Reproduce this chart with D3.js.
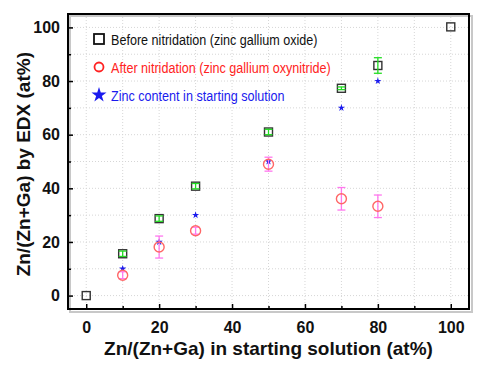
<!DOCTYPE html>
<html>
<head>
<meta charset="utf-8">
<script src="https://cdn.jsdelivr.net/npm/d3@7"></script>
<style>
  body { margin: 0; background: #fff; }
  svg { display: block; font-family: Arial, "Liberation Sans", sans-serif; }
</style>
</head>
<body>
<div class="chart"></div>
<script>
"use strict";

// Zn/(Zn+Ga) in starting solution (at%)
const beforeX = [0, 10, 20, 30, 50, 70, 80, 100];
const beforeY = [0, 15.6, 28.7, 40.8, 61, 77.3, 85.8, 100.2];
const beforeErr = [0, 1, 1, 1, 1, 0.5, 2.9, 0];

const afterX = [10, 20, 30, 50, 70, 80];
const afterY = [7.6, 18.1, 24.2, 49, 36.1, 33.3];
const afterErr = [1.3, 4.1, 1.3, 2.6, 4.2, 4.2];

const zincX = [10, 20, 30, 50, 70, 80];
const zincY = [10, 20, 30, 50, 70, 80];

const tickValues = [0, 20, 40, 60, 80, 100];
const minorValues = [10, 30, 50, 70, 90];

const legendLabels = [
  "Before nitridation (zinc gallium oxide)",
  "After nitridation (zinc gallium oxynitride)",
  "Zinc content in starting solution"
];

const width = 495;
const height = 371;
const margin = { top: 14, right: 26, bottom: 62, left: 68 };
const innerWidth = width - margin.left - margin.right;
const innerHeight = height - margin.top - margin.bottom;

const svg = d3.select(".chart")
  .append("svg")
    .attr("width", width)
    .attr("height", height);

const xScale = d3.scaleLinear().domain([-5, 105]).range([0, innerWidth]);
const yScale = d3.scaleLinear().domain([-5, 105]).range([innerHeight, 0]);

const chart = svg.append("g")
  .attr("transform", `translate(${margin.left}, ${margin.top})`);

// frame shadow
chart.append("rect")
  .attr("x", 2).attr("y", 2)
  .attr("width", innerWidth + 1).attr("height", innerHeight + 1)
  .attr("fill", "none")
  .attr("stroke", "#c8c8c8")
  .attr("stroke-width", 2);

// dotted grid every 10
const gridVals = d3.range(0, 101, 10);
chart.append("g")
  .selectAll("line")
  .data(gridVals)
  .join("line")
    .attr("x1", d => xScale(d)).attr("x2", d => xScale(d))
    .attr("y1", 0).attr("y2", innerHeight)
    .attr("stroke", "#d6d6d6")
    .attr("stroke-dasharray", "1,2");

chart.append("g")
  .selectAll("line")
  .data(gridVals)
  .join("line")
    .attr("x1", 0).attr("x2", innerWidth)
    .attr("y1", d => yScale(d)).attr("y2", d => yScale(d))
    .attr("stroke", "#d6d6d6")
    .attr("stroke-dasharray", "1,2");

// axes with inward ticks
const xAxis = d3.axisBottom(xScale).tickValues(tickValues).tickSize(-5).tickPadding(13);
const yAxis = d3.axisLeft(yScale).tickValues(tickValues).tickSize(-5).tickPadding(8);

const gx = chart.append("g")
  .attr("class", "axis-x")
  .attr("transform", `translate(0, ${innerHeight})`)
  .call(xAxis);

const gy = chart.append("g")
  .attr("class", "axis-y")
  .call(yAxis);

// minor ticks, no labels
chart.append("g")
  .attr("transform", `translate(0, ${innerHeight})`)
  .call(d3.axisBottom(xScale).tickValues(minorValues).tickSize(-3))
  .call(g => g.select(".domain").remove())
  .call(g => g.selectAll("text").remove());
chart.append("g")
  .call(d3.axisLeft(yScale).tickValues(minorValues).tickSize(-3))
  .call(g => g.select(".domain").remove())
  .call(g => g.selectAll("text").remove());

[gx, gy].forEach(g => {
  g.select(".domain").remove();
  g.selectAll("text")
    .attr("font-size", 16)
    .attr("font-weight", "bold")
    .attr("fill", "#111");
});
chart.selectAll(".tick line").attr("stroke", "#000").attr("stroke-width", 1.5);

// frame
chart.append("rect")
  .attr("width", innerWidth).attr("height", innerHeight)
  .attr("fill", "none")
  .attr("stroke", "#000")
  .attr("stroke-width", 2);

// axis titles
svg.append("text")
  .attr("x", margin.left + xScale(50))
  .attr("y", 355)
  .attr("text-anchor", "middle")
  .attr("font-size", 19)
  .attr("font-weight", "bold")
  .attr("fill", "#111")
  .text("Zn/(Zn+Ga) in starting solution (at%)");

svg.append("text")
  .attr("transform", `translate(30, ${margin.top + yScale(49)}) rotate(-90)`)
  .attr("text-anchor", "middle")
  .attr("font-size", 19)
  .attr("font-weight", "bold")
  .attr("fill", "#111")
  .text("Zn/(Zn+Ga) by EDX (at%)");

// error bars helper
function errorBars(xs, ys, errs, color) {
  const g = chart.append("g").attr("stroke", color).attr("stroke-width", 1.3);
  xs.forEach((x, i) => {
    if (!errs[i]) return;
    const cx = xScale(x);
    const y1 = yScale(ys[i] + errs[i]);
    const y2 = yScale(ys[i] - errs[i]);
    g.append("line").attr("x1", cx).attr("x2", cx).attr("y1", y1).attr("y2", y2);
    g.append("line").attr("x1", cx - 4).attr("x2", cx + 4).attr("y1", y1).attr("y2", y1);
    g.append("line").attr("x1", cx - 4).attr("x2", cx + 4).attr("y1", y2).attr("y2", y2);
  });
}

const before = beforeX.map((x, i) => ({ x, y: beforeY[i] }));
const after = afterX.map((x, i) => ({ x, y: afterY[i] }));
const zinc = zincX.map((x, i) => ({ x, y: zincY[i] }));

// squares
chart.append("g")
  .selectAll("rect")
  .data(before)
  .join("rect")
    .attr("x", d => xScale(d.x) - 4)
    .attr("y", d => yScale(d.y) - 4)
    .attr("width", 8)
    .attr("height", 8)
    .attr("fill", "none")
    .attr("stroke", "#333")
    .attr("stroke-width", 1.4);
errorBars(beforeX, beforeY, beforeErr, "#22dd22");

// stars
chart.append("g")
  .selectAll("path")
  .data(zinc)
  .join("path")
    .attr("transform", d => `translate(${xScale(d.x)}, ${yScale(d.y)})`)
    .attr("d", d3.symbol(d3.symbolStar, 16))
    .attr("fill", "#1a1aee");

// circles
errorBars(afterX, afterY, afterErr, "#ff77ee");
chart.append("g")
  .selectAll("circle")
  .data(after)
  .join("circle")
    .attr("cx", d => xScale(d.x))
    .attr("cy", d => yScale(d.y))
    .attr("r", 5)
    .attr("fill", "none")
    .attr("stroke", "#ff6666")
    .attr("stroke-width", 1.4);

// legend (text squeezed horizontally like the original narrow font)
const legendColors = ["#111", "#ff2222", "#1a1aee"];
const legend = svg.append("g").attr("transform", "translate(99, 39)");
legendLabels.forEach((label, i) => {
  const row = legend.append("g").attr("transform", `translate(0, ${i * 28})`);
  if (i === 0) {
    row.append("rect").attr("x", -5).attr("y", -5).attr("width", 10).attr("height", 10)
      .attr("fill", "none").attr("stroke", "#111").attr("stroke-width", 1.8);
  } else if (i === 1) {
    row.append("circle").attr("r", 4.5).attr("fill", "none")
      .attr("stroke", "#ff2222").attr("stroke-width", 1.8);
  } else {
    row.append("path").attr("d", d3.symbol(d3.symbolStar, 70)).attr("fill", "#1a1aee");
  }
  row.append("text")
    .attr("transform", "translate(12, 5.5) scale(0.84, 1)")
    .attr("font-size", 15)
    .attr("fill", legendColors[i])
    .text(label);
});
</script>
</body>
</html>
